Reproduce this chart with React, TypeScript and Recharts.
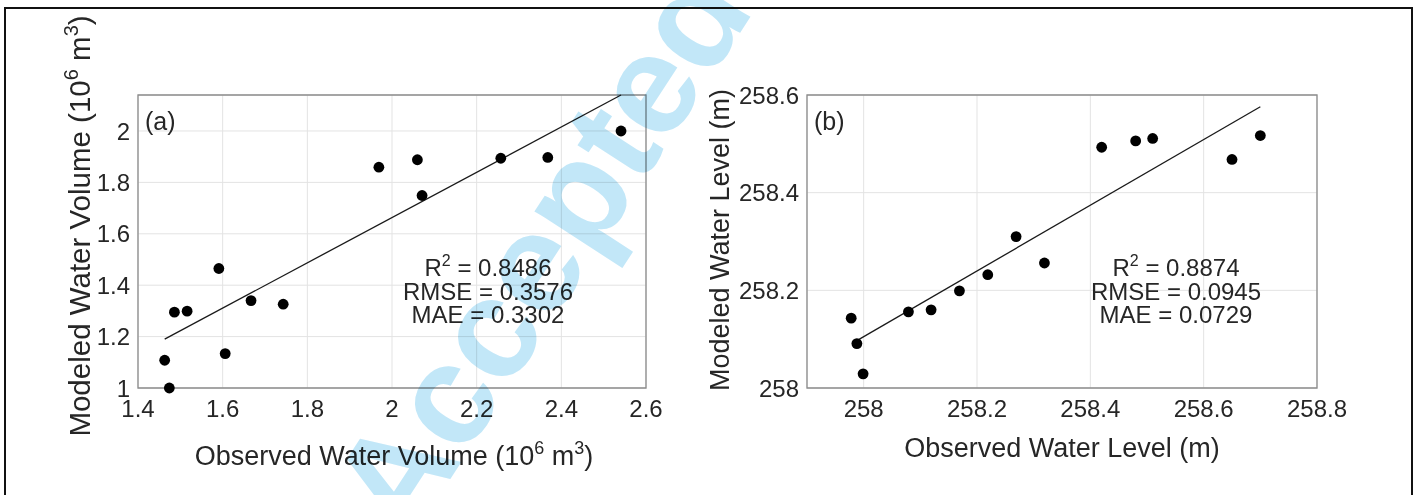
import React from "react";
import {
  ScatterChart,
  Scatter,
  XAxis,
  YAxis,
  CartesianGrid,
  ReferenceArea,
  ReferenceLine,
} from "recharts";

// (a) water volume, 10^6 m^3
const volObserved = [1.463, 1.474, 1.486, 1.516, 1.591, 1.606, 1.667, 1.743, 1.969, 2.06, 2.071, 2.257, 2.368, 2.541];
const volModeled = [1.108, 1.0, 1.295, 1.299, 1.465, 1.134, 1.34, 1.326, 1.859, 1.888, 1.749, 1.894, 1.897, 2.0];
const volFitX = [1.463, 2.541];
const volFitY = [1.19, 2.14];
const volXTicks = [1.4, 1.6, 1.8, 2, 2.2, 2.4, 2.6];
const volYTicks = [1, 1.2, 1.4, 1.6, 1.8, 2];
const volStats = ["0.8486", "0.3576", "0.3302"];

// (b) water level, m
const lvlObserved = [257.978, 257.988, 257.999, 258.079, 258.119, 258.169, 258.219, 258.269, 258.319, 258.42, 258.48, 258.51, 258.65, 258.7];
const lvlModeled = [258.143, 258.091, 258.029, 258.156, 258.16, 258.199, 258.232, 258.31, 258.256, 258.493, 258.506, 258.511, 258.468, 258.517];
const lvlFitX = [257.988, 258.7];
const lvlFitY = [258.097, 258.576];
const lvlXTicks = [258, 258.2, 258.4, 258.6, 258.8];
const lvlYTicks = [258, 258.2, 258.4, 258.6];
const lvlStats = ["0.8874", "0.0945", "0.0729"];

const FONT = "'Liberation Sans', Arial, Helvetica, sans-serif";
const INK = "#262626";
const fmt = (v: number) => String(+v.toFixed(1));

const toPoints = (xs: number[], ys: number[]) => xs.map((x, i) => ({ x, y: ys[i] }));

const Dot = (p: any) => <circle cx={p.cx} cy={p.cy} r={5.4} fill="#000" />;

function Stats({ cx, vals }: { cx: number; vals: string[] }) {
  return (
    <g fontFamily={FONT} fontSize={24} fill={INK} textAnchor="middle">
      <text x={cx} y={276}>
        R<tspan dy={-10} fontSize={16}>2</tspan>
        <tspan dy={10}> = {vals[0]}</tspan>
      </text>
      <text x={cx} y={299.5}>RMSE = {vals[1]}</text>
      <text x={cx} y={323}>MAE = {vals[2]}</text>
    </g>
  );
}

function Panel(props: {
  left: number;
  width: number;
  marginLeft: number;
  marginRight: number;
  xs: number[];
  ys: number[];
  fitX: number[];
  fitY: number[];
  xDomain: [number, number];
  yDomain: [number, number];
  xTicks: number[];
  yTicks: number[];
  tag: string;
  tagX: number;
  stats: string[];
  statsX: number;
  xLabel: React.ReactNode;
  xLabelPos: [number, number];
  yLabel: React.ReactNode;
  yLabelPos: [number, number];
  yLabelSize: number;
}) {
  const data = toPoints(props.xs, props.ys);
  const fit = toPoints(props.fitX, props.fitY);
  const tickStyle = { fontSize: 24, fill: INK, fontFamily: FONT };
  return (
    <div style={{ position: "absolute", left: props.left, top: 0 }}>
      <ScatterChart
        width={props.width}
        height={495}
        margin={{ top: 95, right: props.marginRight, bottom: 67, left: props.marginLeft }}
      >
        <CartesianGrid stroke="#e3e3e3" strokeWidth={1} />
        <XAxis
          type="number"
          dataKey="x"
          domain={props.xDomain}
          ticks={props.xTicks}
          tickFormatter={fmt}
          axisLine={false}
          tickLine={false}
          tickMargin={6}
          height={40}
          tick={tickStyle}
        />
        <YAxis
          type="number"
          dataKey="y"
          domain={props.yDomain}
          ticks={props.yTicks}
          tickFormatter={fmt}
          axisLine={false}
          tickLine={false}
          tickMargin={2}
          width={60}
          tick={tickStyle}
        />
        <ReferenceArea
          x1={props.xDomain[0]}
          x2={props.xDomain[1]}
          y1={props.yDomain[0]}
          y2={props.yDomain[1]}
          fill="none"
          stroke="#8c8c8c"
          strokeWidth={1.3}
        />
        <ReferenceLine
          segment={[fit[0], fit[1]]}
          stroke="#1a1a1a"
          strokeWidth={1.3}
        />
        <Scatter data={data} fill="#000" shape={Dot} isAnimationActive={false} />
        <text x={props.tagX} y={130} fontFamily={FONT} fontSize={25} fill={INK}>
          {props.tag}
        </text>
        <Stats cx={props.statsX} vals={props.stats} />
        <text
          x={props.xLabelPos[0]}
          y={props.xLabelPos[1]}
          fontFamily={FONT}
          fontSize={27}
          fill={INK}
          textAnchor="middle"
        >
          {props.xLabel}
        </text>
        <text
          x={props.yLabelPos[0]}
          y={props.yLabelPos[1]}
          transform={`rotate(-90 ${props.yLabelPos[0]} ${props.yLabelPos[1]})`}
          dy={props.yLabelSize / 3}
          fontFamily={FONT}
          fontSize={props.yLabelSize}
          fill={INK}
          textAnchor="middle"
        >
          {props.yLabel}
        </text>
      </ScatterChart>
    </div>
  );
}

const unit = (sz: number) => {
  const up = Math.round(sz * 0.4);
  const small = Math.round(sz * 0.68);
  return (
    <>
      (10<tspan dy={-up} fontSize={small}>6</tspan>
      <tspan dy={up}> m</tspan>
      <tspan dy={-up} fontSize={small}>3</tspan>
      <tspan dy={up}>)</tspan>
    </>
  );
};

export default function App() {
  return (
    <div style={{ position: "absolute", left: 0, top: 0, width: 1415, height: 495, background: "#fff", overflow: "hidden" }}>
      <div
        style={{
          position: "absolute",
          left: 4,
          top: 7,
          width: 1405,
          height: 520,
          border: "2px solid #111",
        }}
      />
      <Panel
        left={0}
        width={700}
        marginLeft={78}
        marginRight={54}
        xs={volObserved}
        ys={volModeled}
        fitX={volFitX}
        fitY={volFitY}
        xDomain={[1.4, 2.6]}
        yDomain={[1, 2.14]}
        xTicks={volXTicks}
        yTicks={volYTicks}
        tag="(a)"
        tagX={145}
        stats={volStats}
        statsX={488}
        xLabel={<>Observed Water Volume {unit(27)}</>}
        xLabelPos={[394, 465]}
        yLabel={<>Modeled Water Volume {unit(29.5)}</>}
        yLabelPos={[80, 226]}
        yLabelSize={29.5}
      />
      <Panel
        left={700}
        width={715}
        marginLeft={47}
        marginRight={98}
        xs={lvlObserved}
        ys={lvlModeled}
        fitX={lvlFitX}
        fitY={lvlFitY}
        xDomain={[257.9, 258.8]}
        yDomain={[258, 258.6]}
        xTicks={lvlXTicks}
        yTicks={lvlYTicks}
        tag="(b)"
        tagX={114}
        stats={lvlStats}
        statsX={476}
        xLabel="Observed Water Level (m)"
        xLabelPos={[362, 457]}
        yLabel="Modeled Water Level (m)"
        yLabelPos={[20, 240]}
        yLabelSize={27}
      />
      <svg
        width={1415}
        height={495}
        style={{ position: "absolute", left: 0, top: 0, pointerEvents: "none", mixBlendMode: "multiply" }}
      >
        <text
          x={540}
          y={250}
          transform="rotate(-57 540 250)"
          textAnchor="middle"
          dominantBaseline="central"
          fontFamily={FONT}
          fontWeight="bold"
          fontSize={142}
          fill="#c2e7f8"
        >
          Accepted
        </text>
      </svg>
    </div>
  );
}
